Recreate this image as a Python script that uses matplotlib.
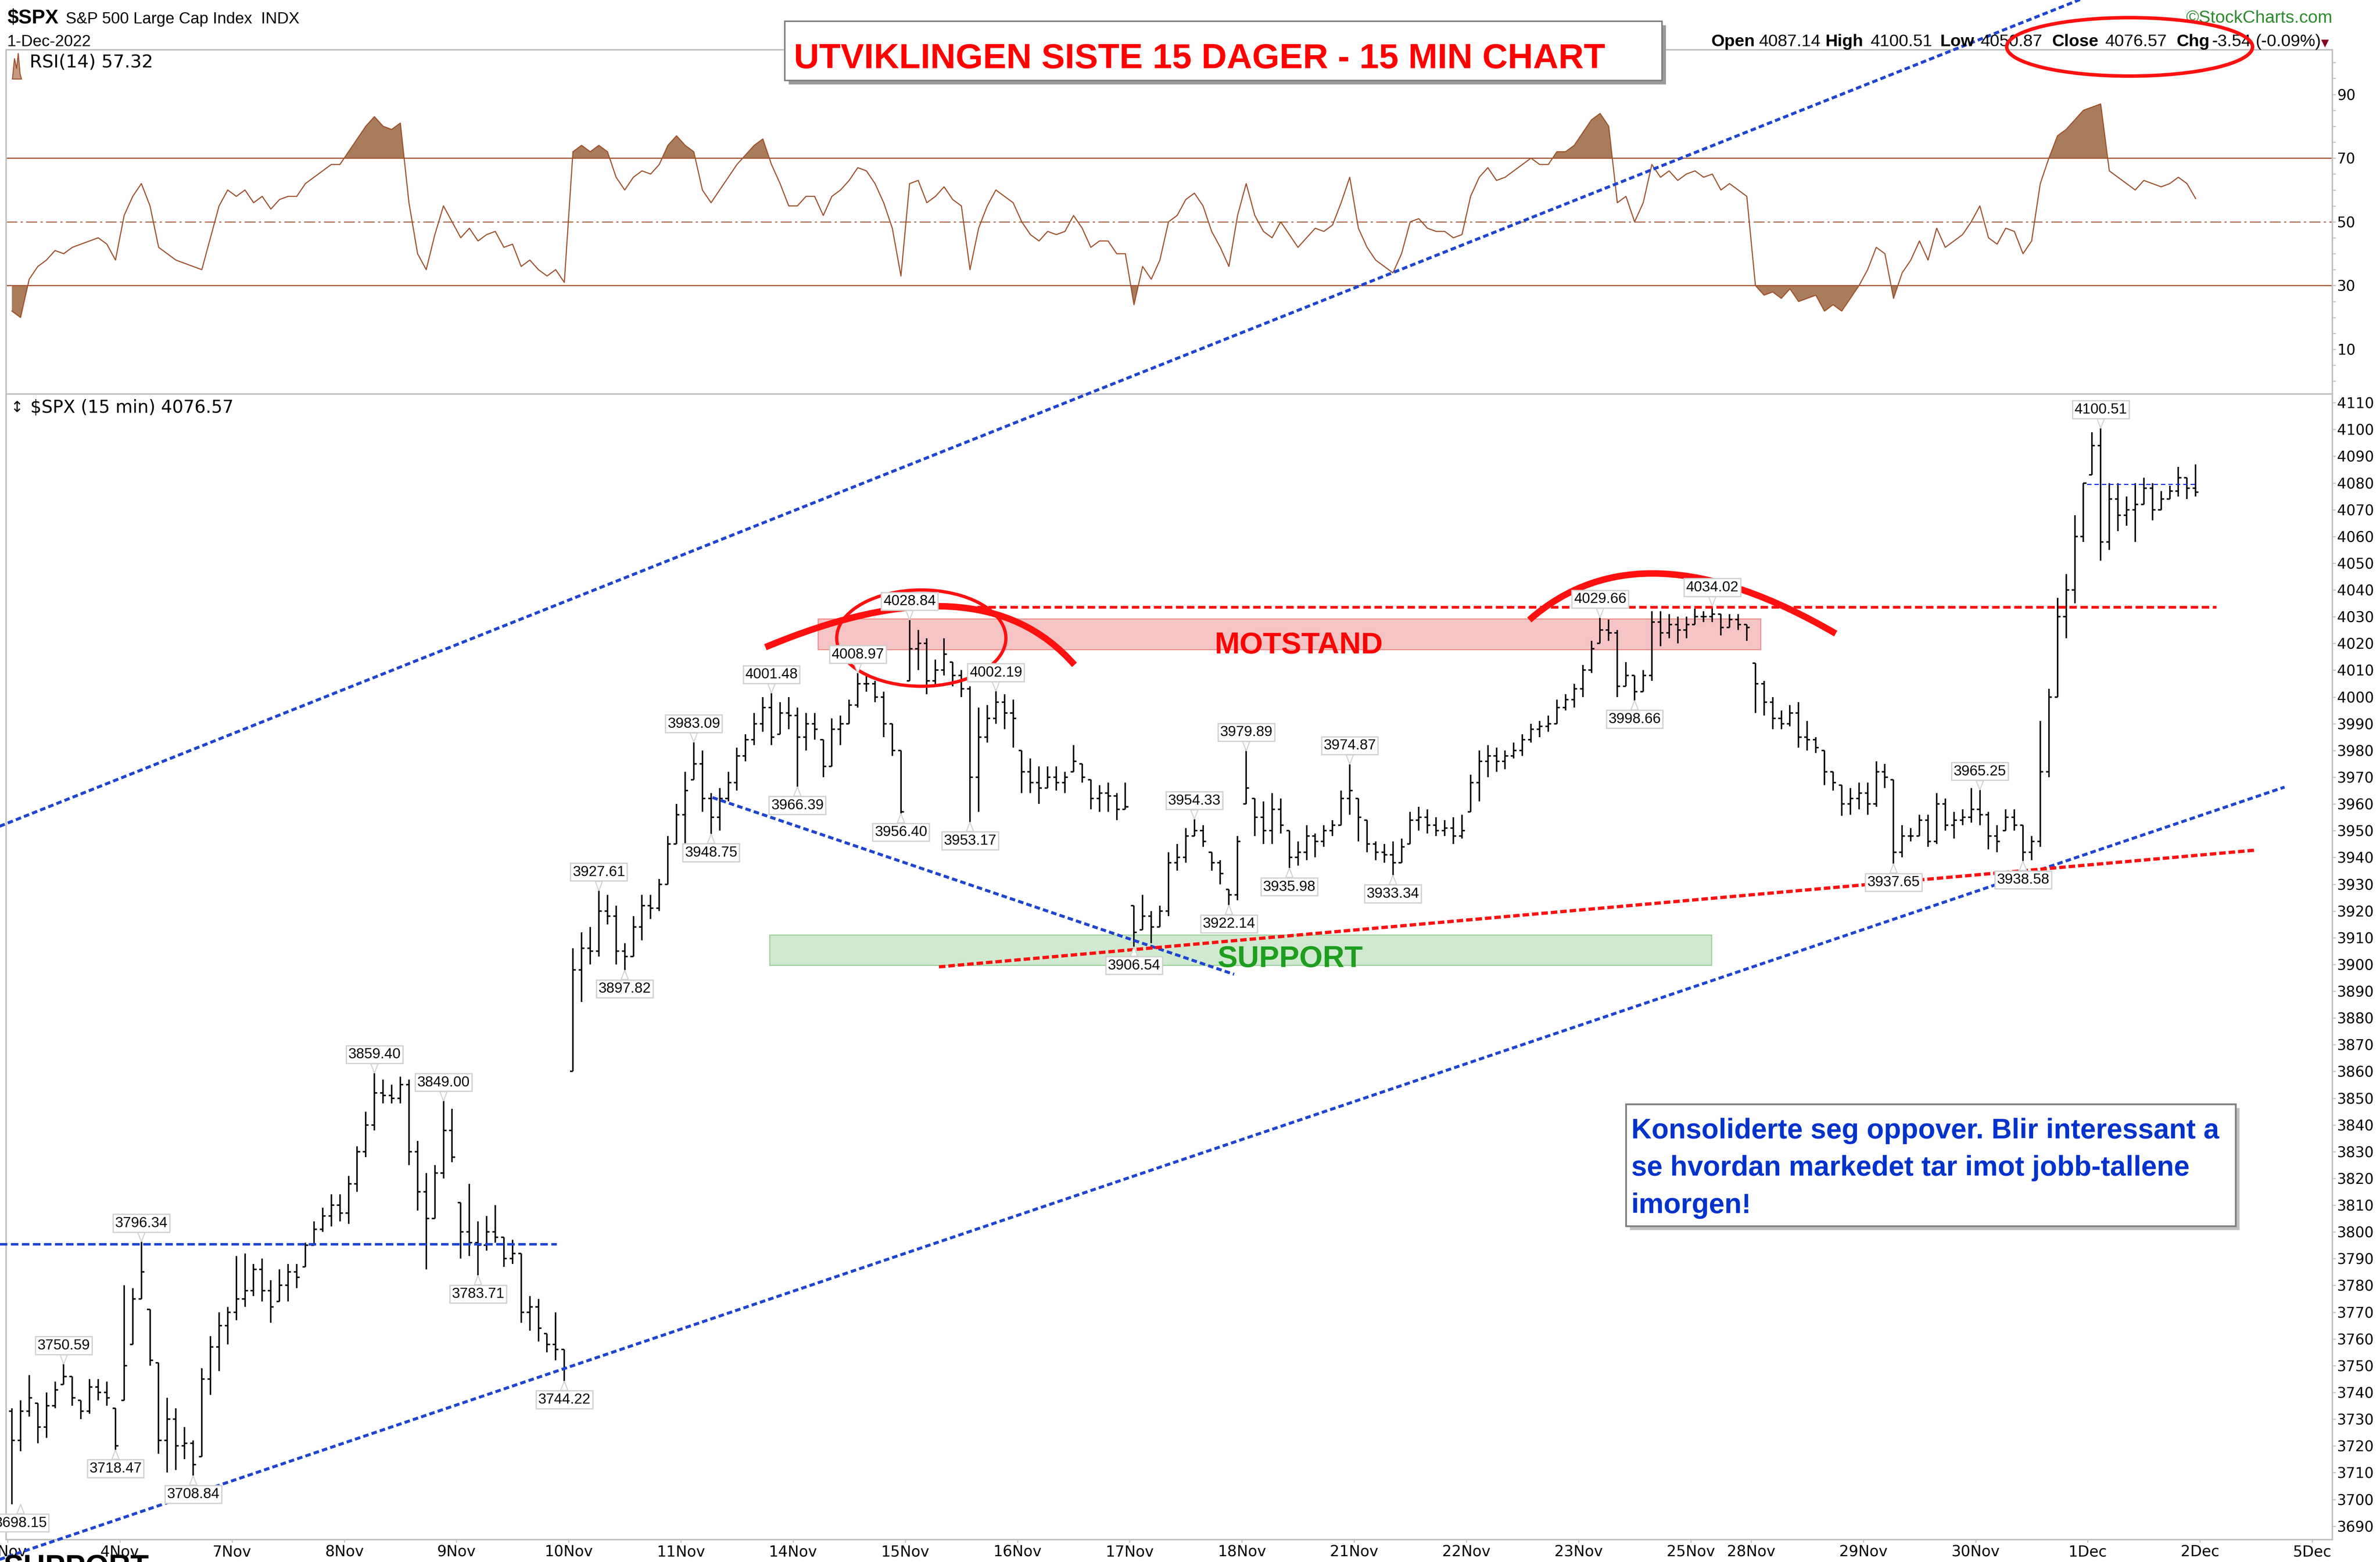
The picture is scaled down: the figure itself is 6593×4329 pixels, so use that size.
import numpy as np
import matplotlib.pyplot as plt
from matplotlib.patches import Rectangle, Ellipse, PathPatch, Polygon
from matplotlib.path import Path
import matplotlib.patheffects as pe

NARROW = ['Liberation Sans', 'DejaVu Sans']
plt.rcParams['font.family'] = ['DejaVu Sans']

# ---- calendar (30-min bars per trading day, 25Nov half day, 2Dec empty) ----
days = ["3Nov", "4Nov", "7Nov", "8Nov", "9Nov", "10Nov", "11Nov", "14Nov", "15Nov",
        "16Nov", "17Nov", "18Nov", "21Nov", "22Nov", "23Nov", "25Nov", "28Nov",
        "29Nov", "30Nov", "1Dec", "2Dec", "5Dec"]
bars_per_day = [13] * 15 + [7] + [13] * 5

# ---- $SPX bars (one row per day) ----
highs = [
    [3734, 3737, 3746.5, 3736, 3740, 3744, 3750.59, 3746, 3737, 3745, 3745, 3744, 3734],
    [3780, 3779, 3796.34, 3771, 3751, 3738, 3734, 3727, 3722, 3749, 3761, 3770, 3772],
    [3791, 3792, 3788, 3790, 3782, 3786, 3788, 3788, 3796, 3804, 3809, 3814, 3814],
    [3821, 3832, 3845, 3859.40, 3857, 3855, 3858, 3857, 3834, 3822, 3825, 3849.00, 3846],
    [3811, 3818, 3804, 3806, 3810, 3798, 3797, 3792, 3776, 3775, 3762, 3770, 3756],
    [3906, 3912, 3914, 3927.61, 3926, 3922, 3908, 3918, 3926, 3926, 3932, 3948, 3960],
    [3972, 3983.09, 3980, 3964, 3966, 3972, 3981, 3986, 3994, 4000, 4001.48, 3998, 4000],
    [3996, 3994, 3994, 3984, 3992, 3993, 3999, 4008.97, 4008, 4006, 4002, 3990, 3980],
    [4028.84, 4025, 4022, 4014, 4022, 4013, 4010, 4004, 3996, 3997, 4002.19, 4001, 3999],
    [3980, 3977, 3974, 3974, 3974, 3972, 3982, 3975, 3969, 3967, 3968, 3964, 3968],
    [3922, 3926, 3920, 3922, 3942, 3945, 3951, 3954.33, 3952, 3942, 3939, 3928, 3948],
    [3979.89, 3962, 3961, 3964, 3962, 3950, 3946, 3952, 3949, 3952, 3954, 3965, 3974.87],
    [3962, 3954, 3946, 3945, 3946, 3947, 3957, 3959, 3958, 3955, 3954, 3955, 3956],
    [3971, 3980, 3982, 3981, 3980, 3983, 3986, 3990, 3991, 3993, 3999, 4001, 4005],
    [4012, 4021, 4029.66, 4029, 4025, 4013, 4008, 4010, 4032, 4032, 4031, 4030, 4030],
    [4033, 4032, 4034.02, 4031, 4031, 4031, 4027],
    [4012.6, 4006, 4000, 3995, 3997, 3998, 3991, 3985, 3980, 3972, 3967, 3966, 3968],
    [3968, 3976, 3975, 3969, 3952, 3951, 3956, 3956, 3964, 3962, 3957, 3958, 3966],
    [3965.25, 3957, 3952, 3958, 3958, 3952, 3948, 3991, 4003, 4037, 4046, 4068, 4080],
    [4099, 4100.51, 4080, 4080, 4075, 4080, 4082, 4080, 4077, 4079, 4086, 4082, 4087],
]
lows = [
    [3698.15, 3718, 3731, 3721, 3723, 3734, 3743, 3735, 3730, 3732, 3737, 3735, 3718.47],
    [3737, 3758, 3775, 3750, 3717, 3710, 3711, 3715, 3708.84, 3716, 3739, 3748, 3758],
    [3767, 3772, 3776, 3774, 3766, 3774, 3774, 3779, 3787, 3795, 3800, 3802, 3804],
    [3803, 3815, 3828, 3838, 3848, 3848, 3848, 3825, 3808, 3786, 3805, 3820, 3826],
    [3790, 3791, 3783.71, 3793, 3796, 3787, 3788, 3766, 3763, 3759, 3755, 3752, 3744.22],
    [3860, 3886, 3900, 3903, 3915, 3900, 3897.82, 3903, 3909, 3917, 3920, 3930, 3945],
    [3939, 3969, 3957, 3948.75, 3950, 3961, 3965, 3976, 3982, 3987, 3982, 3986, 3988],
    [3966.39, 3980, 3984, 3970, 3974, 3982, 3990, 3996, 4002, 3998, 3985, 3978, 3956.40],
    [4006, 4010, 4001, 4004, 4008, 4004, 4000, 3953.17, 3957, 3983, 3990, 3988, 3981],
    [3964, 3964, 3960, 3966, 3965, 3964, 3972, 3968, 3958, 3957, 3957, 3954, 3958],
    [3906.54, 3913, 3908, 3914, 3918, 3935, 3938, 3948, 3944, 3935, 3930, 3922.14, 3924],
    [3960, 3948, 3945, 3945, 3949, 3935.98, 3937, 3939, 3940, 3944, 3948, 3952, 3956],
    [3946, 3942, 3939, 3938, 3933.34, 3938, 3945, 3950, 3949, 3948, 3948, 3945, 3947],
    [3957, 3961, 3970, 3972, 3973, 3977, 3978, 3983, 3985, 3987, 3990, 3995, 3996],
    [4000, 4009, 4020, 4021, 4000, 4004, 3998.66, 4002, 4006, 4019, 4022, 4020, 4022],
    [4027, 4028, 4028, 4023, 4026, 4025, 4021],
    [3994, 3993, 3988, 3988, 3989, 3981, 3980, 3979, 3967, 3965, 3955.6, 3956, 3958],
    [3956, 3959, 3966, 3937.65, 3940, 3946, 3948, 3944, 3945, 3950, 3947, 3952, 3953],
    [3952, 3943, 3942, 3950, 3950, 3938.58, 3939, 3944, 3970, 4000, 4022, 4035, 4058],
    [4083, 4051, 4055, 4062, 4064, 4058, 4072, 4066, 4070, 4074, 4075, 4074, 4075],
]
closes = [
    [3722, 3733, 3738, 3727, 3735, 3741, 3746, 3738, 3733, 3742, 3740, 3738, 3720],
    [3750, 3775, 3785, 3752, 3722, 3730, 3720, 3721, 3713, 3745, 3757, 3765, 3770],
    [3775, 3778, 3786, 3778, 3772, 3780, 3785, 3783, 3795, 3801, 3806, 3810, 3807],
    [3818, 3830, 3840, 3852, 3851, 3850, 3855, 3830, 3815, 3805, 3822, 3838, 3828],
    [3800, 3796, 3795, 3800, 3798, 3790, 3792, 3770, 3772, 3764, 3758, 3756, 3749],
    [3898, 3906, 3905, 3920, 3918, 3905, 3903, 3914, 3922, 3921, 3930, 3945, 3956],
    [3965, 3975, 3962, 3955, 3962, 3968, 3978, 3984, 3990, 3996, 3985, 3994, 3993],
    [3985, 3990, 3988, 3974, 3988, 3990, 3997, 4005, 4005, 4000, 3990, 3980, 3957],
    [4018, 4020, 4006, 4010, 4016, 4008, 4003, 3970, 3985, 3992, 3998, 3994, 3992],
    [3972, 3968, 3966, 3970, 3968, 3970, 3976, 3970, 3962, 3964, 3963, 3958, 3959],
    [3912, 3918, 3914, 3920, 3938, 3940, 3948, 3950, 3946, 3938, 3934, 3926, 3946],
    [3966, 3955, 3950, 3958, 3952, 3940, 3942, 3948, 3946, 3950, 3952, 3962, 3965],
    [3955, 3945, 3942, 3941, 3938, 3944, 3954, 3955, 3952, 3950, 3951, 3948, 3950],
    [3968, 3976, 3978, 3976, 3978, 3980, 3984, 3988, 3989, 3990, 3996, 3999, 4003],
    [4010, 4018, 4025, 4024, 4004, 4008, 4002, 4008, 4028, 4024, 4027, 4025, 4027],
    [4030, 4030, 4031, 4026, 4029, 4027, 4026],
    [4005, 3998, 3992, 3990, 3994, 3985, 3984, 3981, 3972, 3968, 3960, 3962, 3964],
    [3960, 3972, 3970, 3942, 3948, 3948, 3954, 3946, 3960, 3952, 3954, 3955, 3958],
    [3956, 3948, 3946, 3955, 3952, 3942, 3946, 3972, 4000, 4030, 4040, 4060, 4080],
    [4094, 4058, 4074, 4068, 4070, 4072, 4078, 4070, 4074, 4077, 4082, 4078, 4076.57],
]
first_open = 3733

# ---- RSI(14) ----
rsi_vals = [
    [22, 20, 32, 36, 38, 41, 40, 42, 43, 44, 45, 43, 38],
    [52, 58, 62, 55, 42, 40, 38, 37, 36, 35, 45, 55, 60],
    [58, 60, 56, 58, 54, 57, 58, 58, 62, 64, 66, 68, 68],
    [72, 76, 80, 83, 80, 79, 81, 56, 40, 35, 46, 55, 50],
    [45, 48, 44, 46, 47, 42, 43, 36, 38, 35, 33, 35, 31],
    [72, 74, 72, 74, 72, 64, 60, 64, 66, 65, 68, 74, 77],
    [74, 72, 60, 56, 60, 64, 68, 71, 74, 76, 68, 62, 55],
    [55, 58, 58, 52, 58, 60, 63, 67, 66, 62, 56, 48, 33],
    [62, 63, 56, 58, 61, 57, 55, 35, 48, 55, 60, 58, 56],
    [50, 46, 44, 47, 46, 47, 52, 48, 42, 44, 44, 40, 40],
    [24, 36, 32, 38, 50, 52, 57, 59, 55, 47, 42, 36, 52],
    [62, 52, 47, 45, 50, 46, 42, 45, 48, 47, 49, 56, 64],
    [48, 42, 38, 36, 34, 40, 50, 51, 48, 47, 47, 45, 46],
    [58, 64, 67, 63, 64, 66, 68, 70, 68, 68, 72, 72, 74],
    [78, 82, 84, 80, 56, 58, 50, 56, 68, 64, 66, 63, 65],
    [66, 64, 65, 60, 62, 60, 58],
    [30, 27, 28, 26, 29, 25, 26, 27, 22, 24, 22, 26, 30],
    [35, 42, 40, 26, 34, 38, 44, 38, 48, 42, 44, 46, 50],
    [55, 45, 43, 48, 47, 40, 44, 62, 70, 77, 79, 82, 85],
    [86, 87, 66, 64, 62, 60, 63, 62, 61, 62, 64, 62, 57.32],
]

# ---- swing labels (bar index, value, above=1/below=0) ----
label_bar = [1, 6, 12, 15, 21, 42, 50, 54, 64, 68, 71, 79, 81, 88, 91, 98, 103,
             104, 111, 114, 130, 137, 141, 143, 148, 155, 160, 184, 188, 197,
             218, 228, 233, 242]
label_val = [3698.15, 3750.59, 3718.47, 3796.34, 3708.84, 3859.40, 3849.00,
             3783.71, 3744.22, 3927.61, 3897.82, 3983.09, 3948.75, 4001.48,
             3966.39, 4008.97, 3956.40, 4028.84, 3953.17, 4002.19, 3906.54,
             3954.33, 3922.14, 3979.89, 3935.98, 3974.87, 3933.34, 4029.66,
             3998.66, 4034.02, 3937.65, 3965.25, 3938.58, 4100.51]
label_up = [0, 1, 0, 1, 0, 1, 1, 0, 0, 1, 0, 1, 0, 1, 0, 1, 0, 1, 0, 1, 0, 1,
            0, 1, 0, 1, 0, 1, 0, 1, 0, 1, 0, 1]

# ---- hand-drawn annotations (bar index, price) ----
upper_channel = ([-3, 245], [3949, 4267])
lower_channel = ([-3, 263.8], [3675.3, 3966.3])
blue_level = ([-1, 63.6], [3795.5, 3795.5])
blue_down = ([81.66, 142.1], [3962.4, 3896.3])
red_rising = ([107.9, 260.3], [3899.1, 3942.7])
red_level = ([111.1, 255.9], [4033.5, 4033.5])
dec1_level = ([240.9, 253.6], [4079.6, 4079.6])
motstand_zone = (93.9, 203.1, 4017.8, 4029.2)
support_zone = (88.3, 197.4, 3899.7, 3911.1)
arc1 = [(87.8, 4018.6), (112.7, 4052.3), (123.6, 4012.0)]
arc2 = [(176.3, 4028.8), (189.35, 4065.95), (211.8, 4023.7)]
circle = (105.86, 4022, 19.6, 36)

h = np.concatenate(highs)
l = np.concatenate(lows)
c = np.concatenate(closes)
r = np.concatenate(rsi_vals)
x = np.arange(len(c)) + 0.5
o = np.clip(np.r_[first_open, c[:-1]], l, h)
ticks = np.concatenate([[0], np.cumsum(bars_per_day)])

fig = plt.figure(figsize=(65.93, 43.29), dpi=100)
ax_rsi = fig.add_axes([0.002578, 0.747817, 0.97740, 0.220305])
ax = fig.add_axes([0.002578, 0.014391, 0.97740, 0.733426])

for a in (ax_rsi, ax):
    for s in a.spines.values():
        s.set_color('#c0c0c0')
        s.set_linewidth(3)
    a.yaxis.tick_right()
    a.tick_params(axis='y', which='both', colors='#c0c0c0', labelcolor='black',
                  length=6.5, width=2, labelsize=29, pad=3)
    a.set_xlim(-0.17, 269.34)

# RSI panel
ax_rsi.set_ylim(-4, 104)
ax_rsi.set_xticks([])
ax_rsi.set_yticks([10, 30, 50, 70, 90])
ax_rsi.set_yticks(np.arange(0, 101, 5), minor=True)
fill_c = '#a97c5c'
ax_rsi.fill_between(x, r, 70, where=r >= 70, interpolate=True, color=fill_c, lw=0)
ax_rsi.fill_between(x, r, 30, where=r <= 30, interpolate=True, color=fill_c, lw=0)
ax_rsi.axhline(70, color='#a0522d', lw=2.2)
ax_rsi.axhline(30, color='#a0522d', lw=2.2)
ax_rsi.axhline(50, color='#a0522d', lw=2.2, ls=(0, (10, 3, 2, 3)), alpha=0.85)
ax_rsi.plot(x, r, color='#a0522d', lw=2.2)
ax_rsi.text(0.0101, 0.964, "RSI(14) 57.32", transform=ax_rsi.transAxes,
            fontsize=36, va='center', ha='left')
ax_rsi.add_patch(Polygon([(0.0027, 0.915), (0.0036, 0.975), (0.0045, 0.945),
                          (0.0052, 0.99), (0.0060, 0.93), (0.0066, 0.915)],
                         closed=True, transform=ax_rsi.transAxes,
                         fc='#c49a80', ec='#a0522d', lw=2))

# price panel
ax.set_ylim(3685.0, 4113.3)
ax.set_yticks(np.arange(3690, 4111, 10))
ax.set_xticks(ticks)
ax.set_xticklabels(days)
ax.tick_params(axis='x', colors='#c0c0c0', labelcolor='black', length=6, width=2,
               labelsize=30, pad=4)

x0, x1, y0, y1 = motstand_zone
ax.add_patch(Rectangle((x0, y0), x1 - x0, y1 - y0, fc='#f6c4c4', ec='#f08a8a', lw=2, zorder=1))
x0, x1, y0, y1 = support_zone
ax.add_patch(Rectangle((x0, y0), x1 - x0, y1 - y0, fc='#d0e9d0', ec='#95d095', lw=2, zorder=1))

ax.vlines(x, l, h, color='black', lw=3, zorder=3)
ax.hlines(o, x - 0.34, x, color='black', lw=3, zorder=3)
ax.hlines(c, x, x + 0.34, color='black', lw=3, zorder=3)

ax.text(149.6, 4016.3, "MOTSTAND", color='#ff0000', fontsize=60, fontweight='bold',
        family=NARROW, ha='center', va='baseline', zorder=4)
ax.text(148.6, 3899.0, "SUPPORT", color='#1e9e1e', fontsize=60, fontweight='bold',
        family=NARROW, ha='center', va='baseline', zorder=4)

blue = '#1f45d0'
red = '#ff1010'
ax.plot(*upper_channel, color=blue, lw=5.8, dashes=(1.9, 1.1), clip_on=False, zorder=5)
ax.plot(*lower_channel, color=blue, lw=5.8, dashes=(1.9, 1.1), clip_on=False, zorder=5)
ax.plot(*blue_level, color=blue, lw=5, dashes=(3, 1.4), clip_on=False, zorder=5)
ax.plot(*blue_down, color=blue, lw=5.8, dashes=(1.9, 1.1), zorder=5)
ax.plot(*red_rising, color=red, lw=6.5, dashes=(2, 0.9), zorder=5)
ax.plot(*red_level, color=red, lw=5.5, dashes=(2.7, 1.3), zorder=5)
ax.plot(*dec1_level, color='#1030e0', lw=2.2, dashes=(4, 2.7), zorder=5)

for arc in (arc1, arc2):
    ax.add_patch(PathPatch(Path(arc, [Path.MOVETO, Path.CURVE3, Path.CURVE3]),
                           fill=False, ec=red, lw=13, zorder=6))
cx, cy, cw, chh = circle
ax.add_patch(Ellipse((cx, cy), cw, chh, fill=False, ec=red, lw=6.5, zorder=6))

for j, v, up in zip(label_bar, label_val, label_up):
    ax.annotate(f"{v:.2f}", xy=(j + 0.5, v), xytext=(0, 37 if up else -37),
                textcoords='offset points', ha='center', va='center',
                fontsize=29, family=NARROW, zorder=7, annotation_clip=False,
                bbox=dict(boxstyle='square,pad=0.14', fc='white', ec='#d0d0d0', lw=2.5),
                arrowprops=dict(arrowstyle='wedge,tail_width=0.5,shrink_factor=0.5',
                                fc='white', ec='#d0d0d0', lw=2, shrinkA=0, shrinkB=0))

ax.text(0.0104, 0.988, "$SPX (15 min) 4076.57", transform=ax.transAxes,
        fontsize=35, va='center', ha='left')
ax.text(0.0046, 0.988, "\u2195", transform=ax.transAxes, fontsize=30, va='center',
        ha='center')

# ---- header ----
fig.text(20 / 6593, 0.98498, "$SPX", fontsize=40, fontweight='bold', family=NARROW)
fig.text(182 / 6593, 0.98498, "S&P 500 Large Cap Index  INDX", fontsize=32, family=NARROW)
fig.text(20 / 6593, 0.97043, "1-Dec-2022", fontsize=32, family=NARROW)
fig.text(6461 / 6593, 0.98545, "\u00a9StockCharts.com", fontsize=35, family=NARROW,
         color='#2e8b2e', ha='right')

pieces = [("Open", 4740, True), ("4087.14", 4873, False), ("High", 5057, True),
          ("4100.51", 5182, False), ("Low", 5375, True), ("4050.87", 5487, False),
          ("Close", 5684, True), ("4076.57", 5832, False), ("Chg", 6029, True),
          ("-3.54", 6128, False), ("(-0.09%)", 6248, False)]
for txt, px, bold in pieces:
    fig.text(px / 6593, 0.97043, txt, fontsize=34, family=NARROW,
             fontweight='bold' if bold else 'normal')
fig.text(6430 / 6593, 0.97043, "\u25bc", fontsize=20, color='#8b0020')

fig.patches.append(Ellipse((0.8948, 0.970), 0.1033, 0.0374, transform=fig.transFigure,
                           figure=fig, fill=False, ec=red, lw=7, zorder=8))

# title box
title_box = Rectangle((0.3297, 0.94849), 0.3686, 0.03788, transform=fig.transFigure,
                      figure=fig, fc='white', ec='#7f7f7f', lw=3, zorder=5)
title_box.set_path_effects([pe.SimplePatchShadow(offset=(8, -8), shadow_rgbFace='#9a9a9a', alpha=1),
                            pe.Normal()])
fig.patches.append(title_box)
fig.text(0.3335, 0.95634, "UTVIKLINGEN SISTE 15 DAGER - 15 MIN CHART", fontsize=70,
         fontweight='bold', family=NARROW, color='#ff0000', zorder=6)

# comment box
note_box = Rectangle((0.68315, 0.21506), 0.25618, 0.07808, transform=fig.transFigure,
                     figure=fig, fc='white', ec='#808080', lw=3.5, zorder=5)
note_box.set_path_effects([pe.SimplePatchShadow(offset=(8, -8), shadow_rgbFace='#c0c0c0', alpha=1),
                           pe.Normal()])
fig.patches.append(note_box)
note_lines = ["Konsoliderte seg oppover. Blir interessant a",
              "se hvordan markedet tar imot jobb-tallene",
              "imorgen!"]
for line, yb in zip(note_lines, [0.27119, 0.24740, 0.22338]):
    fig.text(0.68542, yb, line, fontsize=56, fontweight='bold', family=NARROW,
             color='#0033cc', zorder=6)

fig.text(10 / 6593, 0.0052, "SUPPORT", fontsize=60, fontweight='bold', family=NARROW,
         color='black', va='top')

fig.savefig("out.png", dpi=100)
